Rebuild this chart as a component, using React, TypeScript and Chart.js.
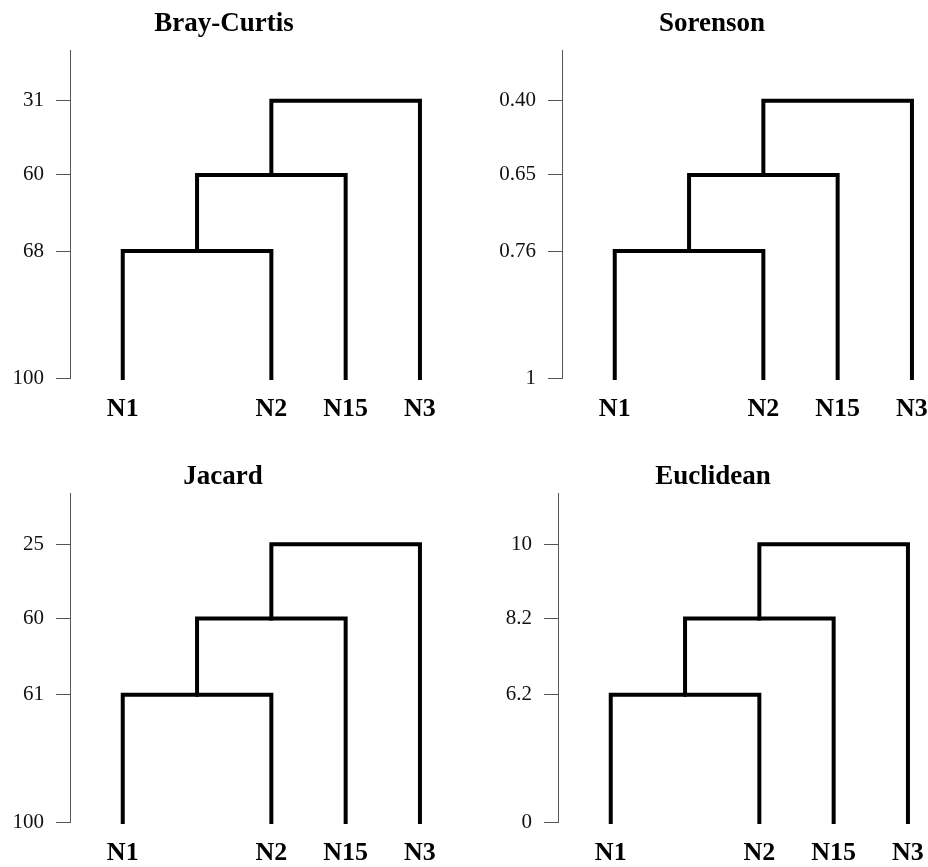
import React, { useEffect, useRef } from "react";
import { Chart, registerables } from "chart.js";

Chart.register(...registerables);

// ---- data ----
const leaves = ["N1", "N2", "N15", "N3"];
const leafX = [0, 2, 3, 4];
// merge pairs: indices < 4 are leaves, 4+ are earlier merges
const merges = [
  [0, 1],
  [4, 2],
  [5, 3],
];
// drawn height of each merge level (axis units, 0 = leaves, 100 = axis top)
const mergeY = [38.7, 61.9, 84.5];

const titles = ["Bray-Curtis", "Sorenson", "Jacard", "Euclidean"];
const brayTicks = ["100", "68", "60", "31"];
const sorensonTicks = ["1", "0.76", "0.65", "0.40"];
const jacardTicks = ["100", "61", "60", "25"];
const euclideanTicks = ["0", "6.2", "8.2", "10"];
const tickSets = [brayTicks, sorensonTicks, jacardTicks, euclideanTicks];

const SERIF = "'Liberation Serif', 'Times New Roman', serif";

type Layout = {
  left: number;
  top: number;
  width: number;
  height: number;
  padTop: number;
  padBottom: number;
  xAxisH: number;
};

const layouts: Layout[] = [
  { left: 0, top: 0, width: 448, height: 444, padTop: 7.8, padBottom: 9.8, xAxisH: 66 },
  { left: 492, top: 0, width: 440, height: 444, padTop: 7.8, padBottom: 9.8, xAxisH: 66 },
  { left: 0, top: 444, width: 446, height: 423, padTop: 16.9, padBottom: 0, xAxisH: 45 },
  { left: 488, top: 444, width: 450, height: 423, padTop: 16.9, padBottom: 0, xAxisH: 45 },
];

const AXIS_W = 70;
const UNIT_PX = 74.3;
const X_MIN = -0.71;

function buildLinks() {
  const nodeX: number[] = [...leafX];
  const nodeY: number[] = leafX.map(() => 0);
  const links: { x: number; y: number }[][] = [];
  merges.forEach(([a, b], i) => {
    const h = mergeY[i];
    links.push([
      { x: nodeX[a], y: nodeY[a] },
      { x: nodeX[a], y: h },
      { x: nodeX[b], y: h },
      { x: nodeX[b], y: nodeY[b] },
    ]);
    nodeX.push((nodeX[a] + nodeX[b]) / 2);
    nodeY.push(h);
  });
  return links;
}

function Panel({ idx }: { idx: number }) {
  const ref = useRef<HTMLCanvasElement | null>(null);
  const lay = layouts[idx];
  useEffect(() => {
    if (!ref.current) return;
    const links = buildLinks();
    const tickVals = [0, ...mergeY];
    const tickLabels = tickSets[idx];
    const xMax = (lay.width - AXIS_W) / UNIT_PX + X_MIN;
    const chart = new Chart(ref.current, {
      type: "scatter",
      data: {
        datasets: links.map((pts) => ({
          data: pts,
          showLine: true,
          borderColor: "#000",
          borderWidth: 4,
          borderCapStyle: "square" as const,
          borderJoinStyle: "miter" as const,
          pointRadius: 0,
          pointHoverRadius: 0,
          fill: false,
          tension: 0,
          clip: false as any,
        })),
      },
      options: {
        responsive: false,
        animation: false,
        events: [],
        layout: { padding: 0 },
        plugins: {
          legend: { display: false },
          tooltip: { enabled: false },
          title: {
            display: true,
            text: titles[idx],
            color: "#000",
            font: { family: SERIF, size: 27, weight: "bold" },
            padding: { top: lay.padTop, bottom: lay.padBottom },
          },
        },
        scales: {
          x: {
            type: "linear",
            min: X_MIN,
            max: xMax,
            afterBuildTicks: (s: any) => {
              s.ticks = leafX.map((v) => ({ value: v }));
            },
            afterFit: (s: any) => {
              s.height = lay.xAxisH;
            },
            ticks: {
              autoSkip: false,
              maxRotation: 0,
              padding: 0,
              color: "#000",
              font: { family: SERIF, size: 26, weight: "bold" },
              callback: (v: any) => leaves[leafX.indexOf(Number(v))] ?? "",
            },
            grid: { display: false, drawTicks: true, tickLength: 16 },
            border: { display: false },
          },
          y: {
            type: "linear",
            min: 0,
            max: 100,
            afterBuildTicks: (s: any) => {
              s.ticks = tickVals.map((v) => ({ value: v }));
            },
            afterFit: (s: any) => {
              s.width = AXIS_W;
            },
            ticks: {
              autoSkip: false,
              padding: 12,
              color: "#111",
              font: { family: SERIF, size: 21 },
              callback: (_v: any, i: number) => tickLabels[i] ?? "",
            },
            grid: {
              display: true,
              drawOnChartArea: false,
              drawTicks: true,
              tickLength: 14,
              color: "#555",
              lineWidth: 1,
            },
            border: { display: true, color: "#555", width: 1 },
          },
        },
      } as any,
    });
    return () => chart.destroy();
  }, [idx]);
  return (
    <canvas
      ref={ref}
      width={lay.width}
      height={lay.height}
      style={{
        position: "absolute",
        left: lay.left,
        top: lay.top,
        width: lay.width,
        height: lay.height,
        display: "block",
      }}
    />
  );
}

export default function App() {
  return (
    <div
      style={{
        position: "absolute",
        left: 0,
        top: 0,
        width: 928,
        height: 867,
        background: "#fff",
        overflow: "hidden",
      }}
    >
      {titles.map((_, i) => (
        <Panel key={i} idx={i} />
      ))}
    </div>
  );
}
